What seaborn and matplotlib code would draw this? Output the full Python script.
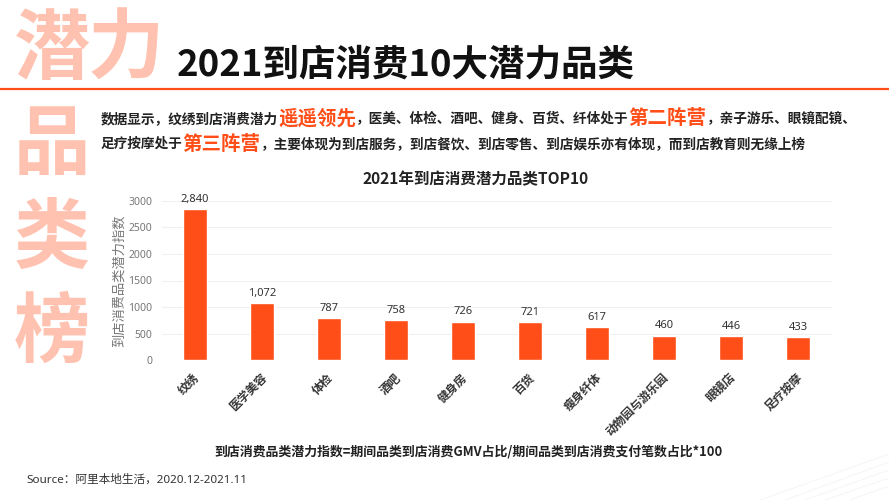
import matplotlib
matplotlib.use('Agg')
import matplotlib.pyplot as plt
from matplotlib.transforms import ScaledTranslation
import seaborn as sns
import pandas as pd

# chart data
categories = ['纹绣', '医学美容', '体检', '酒吧', '健身房', '百货', '瘦身纤体', '动物园与游乐园', '眼镜店', '足疗按摩']
values = [2840, 1072, 787, 758, 726, 721, 617, 460, 446, 433]
y_ticks = [0, 500, 1000, 1500, 2000, 2500, 3000]

# texts
title = '2021到店消费10大潜力品类'
chart_title = '2021年到店消费潜力品类TOP10'
y_label = '到店消费品类潜力指数'
formula = '到店消费品类潜力指数=期间品类到店消费GMV占比/期间品类到店消费支付笔数占比*100'
source = 'Source：阿里本地生活，2020.12-2021.11'
line1 = [('数据显示，纹绣到店消费潜力', False), ('遥遥领先', True),
         ('，医美、体检、酒吧、健身、百货、纤体处于', False), ('第二阵营', True),
         ('，亲子游乐、眼镜配镜、', False)]
line2 = [('足疗按摩处于', False), ('第三阵营', True),
         ('，主要体现为到店服务，到店餐饮、到店零售、到店娱乐亦有体现，而到店教育则无缘上榜', False)]

ORANGE = '#FF4E17'
PINK = '#FFC2B0'
W, H = 889, 500
# regular latin digits look wider in the original
LATIN = ['Noto Sans', 'Noto Sans CJK SC', 'DejaVu Sans']

sns.set_theme(style='white')
plt.rcParams['font.family'] = ['Noto Sans CJK SC', 'DejaVu Sans']

fig = plt.figure(figsize=(W / 100, H / 100), dpi=100)


def px(x, y):
    return x / W, 1 - y / H


# faint background strokes, bottom right corner
for x0, y1 in [(760, 454), (785, 462), (805, 470), (825, 478), (850, 486)]:
    fig.add_artist(plt.Line2D([x0 / W, 1], [0, 1 - y1 / H], color='#F7F5F2', lw=0.7))

# big side characters
for ch, x, y in [('潜', 52, 50), ('力', 126, 50), ('品', 52, 145), ('类', 52, 239), ('榜', 52, 333)]:
    fig.text(*px(x, y), ch, fontsize=55, fontweight='bold', color=PINK, ha='center', va='center')

fig.text(*px(177, 65), title, fontsize=26.3, fontweight='bold', color='#111111', ha='left', va='center')
fig.add_artist(plt.Line2D([0, 1], [1 - 89 / H] * 2, color=ORANGE, lw=1.6))


# body text with highlighted runs
def draw_runs(runs, x, y):
    renderer = fig.canvas.get_renderer()
    for txt, hl in runs:
        t = fig.text(*px(x, y), txt, fontsize=14 if hl else 9.85, fontweight='bold',
                     color=ORANGE if hl else '#222222', ha='left', va='center')
        x += t.get_window_extent(renderer).width


draw_runs(line1, 101, 119)
draw_runs(line2, 101, 144)

# bar chart
ax = fig.add_axes([161.5 / W, 1 - 360 / H, 670 / W, 159 / H])
df = pd.DataFrame({'category': categories, 'value': values})
sns.barplot(data=df, x='category', y='value', color=ORANGE, saturation=1, width=0.36, ax=ax)
ax.set_ylim(0, 3000)
ax.set_xlim(-0.5, len(categories) - 0.5)
ax.set_yticks(y_ticks)
ax.set_xlabel('')
ax.set_ylabel(y_label, fontsize=9.5, color='#777777', labelpad=1.5)
ax.tick_params(axis='y', labelsize=7.5, labelcolor='#777777', length=0, pad=6.5)
ax.tick_params(axis='x', length=0, pad=8)
for lab in ax.get_yticklabels():
    lab.set_family(LATIN)
ax.set_xticks(range(len(categories)))
ax.set_xticklabels(categories, rotation=45, ha='right', rotation_mode='anchor',
                   fontsize=8.5, fontweight='bold', color='#333333')
# rotated labels sit a little to the left in the original
shift = ScaledTranslation(-2 / 100, 0, fig.dpi_scale_trans)
for lab in ax.get_xticklabels():
    lab.set_transform(lab.get_transform() + shift)
ax.yaxis.grid(True, color='#F0F0F0', lw=0.8)
ax.set_axisbelow(True)
sns.despine(ax=ax, left=True, bottom=True)
for i, v in enumerate(values):
    ax.annotate(f'{v:,}', (i, v), xytext=(0, 3), textcoords='offset points', ha='center', va='bottom',
                fontsize=8, color='#333333', family=LATIN)

fig.text(*px(476, 179), chart_title, fontsize=11.2, fontweight='bold', color='#222222', ha='center', va='center')
fig.text(*px(469, 451), formula, fontsize=9.3, fontweight='bold', color='#222222', ha='center', va='center')
fig.text(*px(26, 480), source, fontsize=8.4, color='#333333', ha='left', va='center', family=LATIN)

fig.savefig('out.png', dpi=100)
